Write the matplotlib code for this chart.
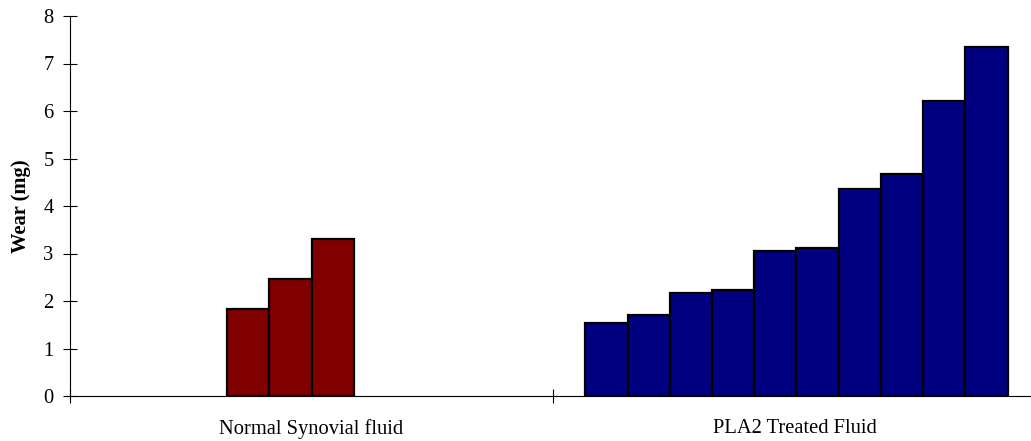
import matplotlib
matplotlib.use("Agg")
import matplotlib.pyplot as plt
import numpy as np

# Wear measurements (mg), sorted within each group
categories = ["Normal Synovial fluid", "PLA2 Treated Fluid"]
normal_wear = [1.83, 2.46, 3.30]
pla2_wear = [1.53, 1.71, 2.16, 2.23, 3.06, 3.11, 4.36, 4.67, 6.22, 7.35]
y_ticks = [0, 1, 2, 3, 4, 5, 6, 7, 8]

plt.rcParams["font.family"] = ["Liberation Serif", "DejaVu Serif"]

fig = plt.figure(figsize=(10.31, 4.41), dpi=100)
ax = fig.add_axes([70 / 1031, 1 - 396 / 441, 966 / 1031, 380 / 441])

# ten bar slots per category cluster
n_slots = 10
bar_w = 0.0874
normal_first_slot = 3

def slot_x(center, slot):
    return center + (slot - n_slots / 2) * bar_w

xs_normal = [slot_x(0, normal_first_slot + i) for i in range(len(normal_wear))]
xs_pla2 = [slot_x(1.004, i) for i in range(len(pla2_wear))]

ax.bar(xs_normal, normal_wear, width=bar_w, align="edge",
       color="#800000", edgecolor="black", linewidth=1.6, zorder=3)
ax.bar(xs_pla2, pla2_wear, width=bar_w, align="edge",
       color="#000080", edgecolor="black", linewidth=1.6, zorder=3)

ax.set_xlim(-0.5, 1.5)
ax.set_ylim(0, 8)
ax.set_yticks(y_ticks)
ax.set_yticklabels([str(t) for t in y_ticks])

# category dividers as major ticks, names as unmarked minor ticks
ax.set_xticks([-0.5, 0.5, 1.5])
ax.set_xticklabels([])
ax.set_xticks([0, 1], minor=True)
ax.set_xticklabels(categories, minor=True)
ax.tick_params(axis="x", which="major", direction="inout", length=10, width=0.8)
ax.tick_params(axis="x", which="minor", length=0, pad=16.5, labelsize=14.8)
ax.tick_params(axis="y", direction="inout", length=9.5, width=0.8, labelsize=14.8, pad=7)

for side in ("top", "right"):
    ax.spines[side].set_visible(False)
for side in ("left", "bottom"):
    ax.spines[side].set_linewidth(0.8)
    ax.spines[side].set_zorder(4)

ax.set_ylabel("Wear (mg)", fontsize=14.8, fontweight="bold", labelpad=9)

fig.savefig("out.png", dpi=100)
